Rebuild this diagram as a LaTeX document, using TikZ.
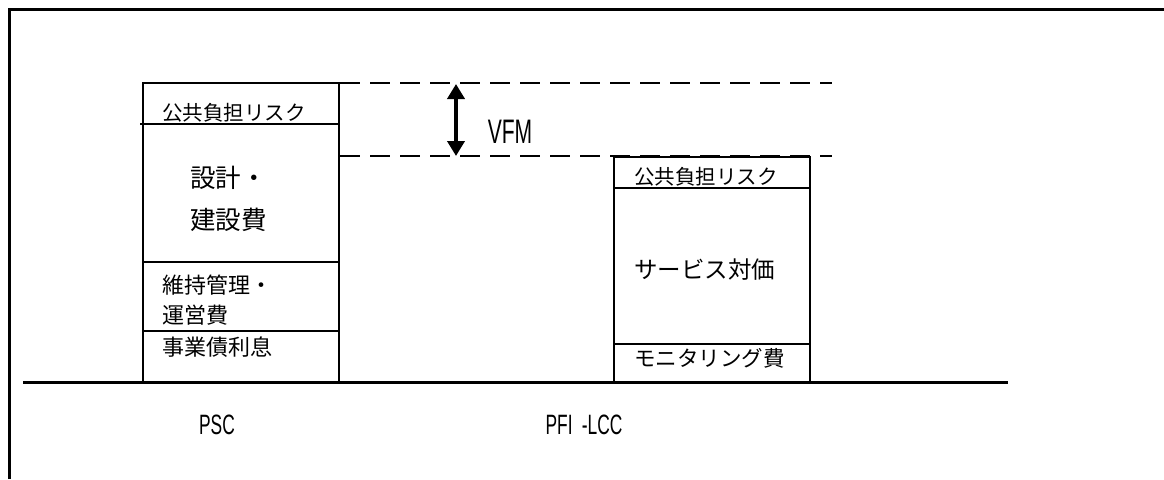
\documentclass[tikz,border=0pt]{standalone}
\usepackage{fontspec}
\newfontfamily\jp{Noto Sans CJK JP}
\newfontfamily\narrow[FakeStretch=0.62]{Liberation Sans}
\usetikzlibrary{arrows.meta}
\tikzset{
  frameline/.style={line width=3pt},
  boxline/.style={line width=2pt},
  divline/.style={line width=1.4pt},
  dashline/.style={line width=2.2pt, dash pattern=on 20pt off 10pt},
  jtext/.style={inner sep=0pt, anchor=west, font=\jp},
  ltext/.style={inner sep=0pt, font=\narrow},
}
\begin{document}
\begin{tikzpicture}[x=1pt,y=-1pt]
\useasboundingbox (0,0) rectangle (1164,479);
% outer frame (top and left)
\coordinate (fa) at (9,479);
\coordinate (fb) at (9,9);
\coordinate (fc) at (1164,9);
\draw[frameline] (fa) -- (fb) -- (fc);
% baseline
\coordinate (b1) at (23,382);
\coordinate (b2) at (1008,382);
\draw[frameline] (b1) -- (b2);
% PSC box
\draw[boxline] (143,382) -- (143,83) -- (339,83) -- (339,382);
\draw[divline] (140,124) -- (339,124);
\draw[divline] (143,262) -- (339,262);
\draw[divline] (143,331) -- (339,331);
% PFI box
\draw[boxline] (614,382) -- (614,157) -- (810,157) -- (810,382);
\draw[divline] (614,188) -- (810,188);
\draw[divline] (614,344) -- (810,344);
% dashed lines
\coordinate (d1a) at (340,83);
\coordinate (d1b) at (832,83);
\coordinate (d2a) at (340,156);
\coordinate (d2b) at (832,156);
\draw[dashline] (d1a) -- (d1b);
\draw[dashline] (d2a) -- (d2b);
% VFM arrow
\coordinate (va) at (456,84);
\coordinate (vb) at (456,156);
\draw[line width=4.5pt, {Triangle[width=17pt,length=15pt]}-{Triangle[width=17pt,length=15pt]}] (va) -- (vb);
\node[ltext, font=\narrow\fontsize{34}{34}\selectfont] (vfm) at (510,132) {VFM};
% PSC texts
\node[jtext, font=\jp\fontsize{20.5}{20.5}\selectfont] (p1) at (162,113) {公共負担リスク};
\node[jtext, font=\jp\fontsize{25.5}{25.5}\selectfont] (p2) at (190,178) {設計・};
\node[jtext, font=\jp\fontsize{25.5}{25.5}\selectfont] (p3) at (190,220) {建設費};
\node[jtext, font=\jp\fontsize{22}{22}\selectfont] (p4) at (162,285) {維持管理・};
\node[jtext, font=\jp\fontsize{22}{22}\selectfont] (p5) at (162,315) {運営費};
\node[jtext, font=\jp\fontsize{22}{22}\selectfont] (p6) at (162,347) {事業債利息};
% PFI texts
\node[jtext, font=\jp\fontsize{20.5}{20.5}\selectfont] (q1) at (634,177) {公共負担リスク};
\node[jtext, font=\jp\fontsize{23.5}{23.5}\selectfont] (q2) at (634,270) {サービス対価};
\node[jtext, font=\jp\fontsize{21.5}{21.5}\selectfont] (q3) at (634,358) {モニタリング費};
% labels
\node[ltext, font=\narrow\fontsize{28}{28}\selectfont] (psc) at (217,425) {PSC};
\node[ltext, font=\narrow\fontsize{28}{28}\selectfont] (pfi) at (584,425) {PFI\,\,-LCC};
\end{tikzpicture}
\end{document}
